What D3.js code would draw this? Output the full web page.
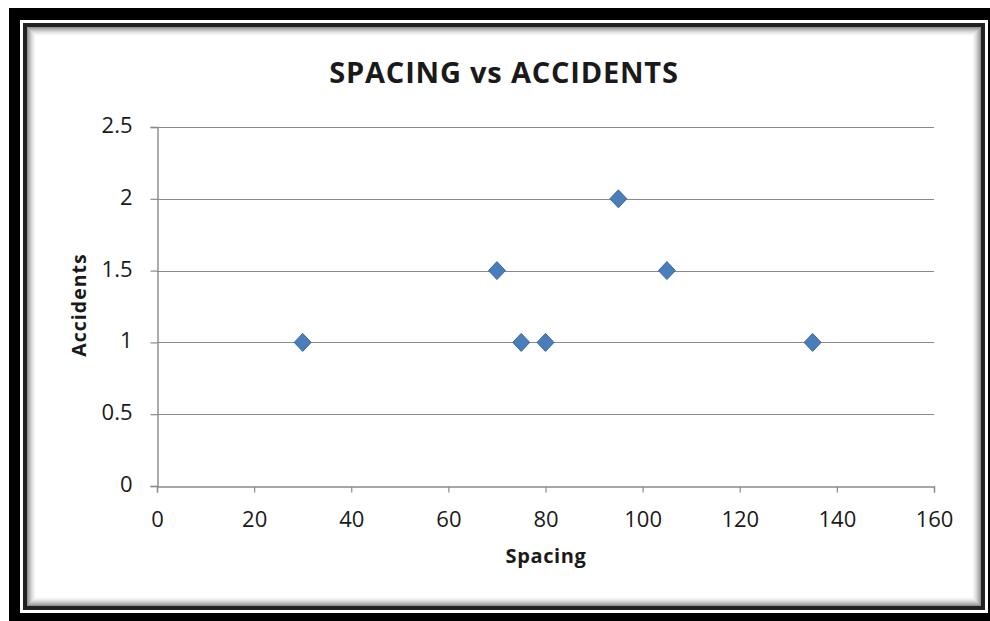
<!DOCTYPE html>
<html>
<head>
<meta charset="utf-8">
<script src="https://cdn.jsdelivr.net/npm/d3@7"></script>
<style>
  html, body { margin: 0; padding: 0; background: #fff; }
  svg { display: block; }
  text { font-family: "Open Sans", "Noto Sans", sans-serif; fill: #1a1a1a; }
</style>
</head>
<body>
<svg id="chart" width="990" height="621"></svg>
<script>
// Spacing between accesses vs number of accidents
const spacing   = [30, 70, 75, 80, 95, 105, 135];
const accidents = [1, 1.5, 1, 1, 2, 1.5, 1];
const xTicks = [0, 20, 40, 60, 80, 100, 120, 140, 160];
const yTicks = [0, 0.5, 1, 1.5, 2, 2.5];
const titleText = "SPACING vs ACCIDENTS";
const xLabel = "Spacing";
const yLabel = "Accidents";

const svg = d3.select("#chart");

// Framed border: black band, thin white gap, dark rule, soft inner shadow
svg.append("rect").attr("x", 9).attr("y", 8).attr("width", 990).attr("height", 620).attr("fill", "#000");
svg.append("rect").attr("x", 20).attr("y", 20).attr("width", 968).attr("height", 593).attr("fill", "#fff");
svg.append("rect").attr("x", 23).attr("y", 23).attr("width", 962).attr("height", 587).attr("fill", "#222");
svg.append("rect").attr("x", 27).attr("y", 27).attr("width", 954).attr("height", 579).attr("fill", "#fff");
const shadeSteps = d3.range(9);
svg.append("g").selectAll("rect").data(shadeSteps).join("rect")
  .attr("x", d => 27.5 + d)
  .attr("y", d => 27.5 + d)
  .attr("width", d => 953 - 2 * d)
  .attr("height", d => 578 - 2 * d)
  .attr("fill", "none")
  .attr("stroke", "#000")
  .attr("stroke-opacity", d => 0.42 * Math.pow(1 - d / 9, 1.6));

// Plot area
const plot = { left: 157, right: 934, top: 127, bottom: 486 };
const x = d3.scaleLinear().domain([0, 160]).range([plot.left, plot.right]);
const y = d3.scaleLinear().domain([0, 2.5]).range([plot.bottom, plot.top]);

// Horizontal gridlines
svg.append("g").selectAll("line").data(yTicks.filter(d => d > 0)).join("line")
  .attr("x1", plot.left).attr("x2", plot.right)
  .attr("y1", d => Math.round(y(d)) + 0.5).attr("y2", d => Math.round(y(d)) + 0.5)
  .attr("stroke", "#8a8a8a").attr("stroke-width", 1.2);

// Axes
const xAxis = svg.append("g")
  .attr("transform", `translate(0,${Math.round(plot.bottom) + 0.5})`)
  .call(d3.axisBottom(x).tickValues(xTicks).tickSize(6).tickPadding(20).tickFormat(d3.format("d")));
const yAxis = svg.append("g")
  .attr("transform", `translate(${plot.left + 0.5},0)`)
  .call(d3.axisLeft(y).tickValues(yTicks).tickSize(7).tickPadding(18).tickFormat(d => String(d)));

[xAxis, yAxis].forEach(g => {
  g.select(".domain").attr("stroke", "#8a8a8a").attr("stroke-width", 1.4);
  g.selectAll(".tick line").attr("stroke", "#8a8a8a").attr("stroke-width", 1.2);
  g.selectAll(".tick text")
    .attr("fill", "#1a1a1a")
    .style("font-family", '"Open Sans", "Noto Sans", sans-serif')
    .style("font-size", "22px");
});
// Open Sans sits a bit lower than the box; nudge tick labels
yAxis.selectAll(".tick text").attr("dy", "0.25em");
xAxis.selectAll(".tick text").attr("dy", "0.68em");

// Data markers
const diamond = "M0,-9L8.5,0L0,9L-8.5,0Z";
svg.append("g").selectAll("path").data(spacing.map((s, i) => [s, accidents[i]])).join("path")
  .attr("d", diamond)
  .attr("transform", d => `translate(${x(d[0])},${y(d[1])})`)
  .attr("fill", "#4A7EBB")
  .attr("stroke", "#3B68A0")
  .attr("stroke-width", 1);

// Title and axis titles
svg.append("text")
  .attr("x", 504).attr("y", 83)
  .attr("text-anchor", "middle")
  .style("font-size", "29px").style("font-weight", "700")
  .style("letter-spacing", "0.8px")
  .text(titleText);

svg.append("text")
  .attr("x", 546).attr("y", 563)
  .attr("text-anchor", "middle")
  .style("font-size", "20px").style("font-weight", "700")
  .style("letter-spacing", "0.6px")
  .text(xLabel);

svg.append("text")
  .attr("transform", "translate(86,305) rotate(-90)")
  .attr("text-anchor", "middle")
  .style("font-size", "19.5px").style("font-weight", "700")
  .style("letter-spacing", "1px")
  .text(yLabel);
</script>
</body>
</html>
